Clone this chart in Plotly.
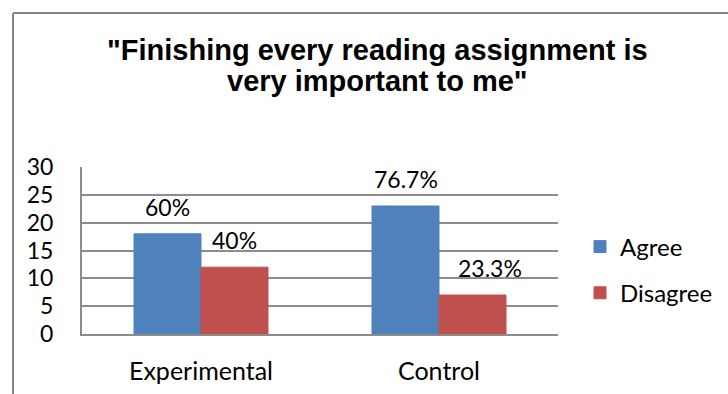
import plotly.graph_objects as go

# Survey responses (number of students) per group
groups = ["Experimental", "Control"]
agree = [18, 23]
disagree = [12, 7]
group_sizes = [30, 30]
y_ticks = [0, 5, 10, 15, 20, 25, 30]

title_lines = ['"Finishing every reading assignment is', 'very important to me"']

BLUE = "#4F81BD"
RED = "#C0504D"
GRID = "#8C8C8C"
FRAME = "#868686"
BODY_FONT = "Lato"

# page geometry (px)
W, H = 728, 394
M_L, M_R, M_T, M_B = 82, 10, 167, 60
PAPER_W = W - M_L - M_R
PAPER_H = H - M_T - M_B
PLOT_W = 476


def px_x(px):
    return (px - M_L) / PAPER_W


def px_y(py):
    return (H - M_B - py) / PAPER_H


x_pos = list(range(len(groups)))
bar_w = 0.2815

fig = go.Figure()
fig.add_trace(go.Bar(
    name="Agree", x=x_pos, y=agree, offset=-bar_w, width=bar_w,
    marker=dict(color=BLUE, line=dict(color=BLUE, width=1)),
    legendgroup="a",
))
fig.add_trace(go.Bar(
    name="Disagree", x=x_pos, y=disagree, offset=0, width=bar_w,
    marker=dict(color=RED, line=dict(color=RED, width=1)),
    legendgroup="d",
))

# Percentage labels above each bar, computed from counts
annotations = []
for series, centre_off, shifts in ((agree, -bar_w / 2, [0, 0]),
                                   (disagree, bar_w / 2, [0, 17])):
    for i, v in enumerate(series):
        pct = 100 * v / group_sizes[i]
        txt = f"{pct:.1f}".rstrip("0").rstrip(".") + "%"
        annotations.append(dict(
            x=x_pos[i] + centre_off, y=v, xref="x", yref="y",
            text=txt, showarrow=False, yanchor="bottom",
            yshift=11, xshift=shifts[i],
            font=dict(family=BODY_FONT, size=23, color="#000000"),
        ))

# Two-line bold chart title
for line, centre_y in zip(title_lines, (50, 81)):
    annotations.append(dict(
        x=px_x(377), y=px_y(centre_y), xref="paper", yref="paper",
        text=f"<b>{line}</b>", showarrow=False,
        xanchor="center", yanchor="middle",
        font=dict(family="Liberation Sans", size=29, color="#000000"),
    ))

# Outer chart frame (left and top edges; the rest runs off the page)
fl, ft = px_x(13), px_y(13)
fb, fr = px_y(400), px_x(735)
shapes = [
    dict(type="line", xref="paper", yref="paper",
         x0=fl, x1=fl, y0=fb, y1=ft,
         line=dict(color=FRAME, width=2), layer="above"),
    dict(type="line", xref="paper", yref="paper",
         x0=fl, x1=fr, y0=ft, y1=ft,
         line=dict(color=FRAME, width=2), layer="above"),
]

fig.update_layout(
    width=W, height=H,
    margin=dict(l=M_L, r=M_R, t=M_T, b=M_B, autoexpand=False),
    paper_bgcolor="white", plot_bgcolor="white",
    bargap=0.437,
    showlegend=True,
    legend=dict(
        x=px_x(580), y=px_y(270), xanchor="left", yanchor="middle",
        font=dict(family=BODY_FONT, size=24, color="#000000"),
        tracegroupgap=12, itemwidth=30,
    ),
    annotations=annotations,
    shapes=shapes,
)

fig.update_xaxes(
    domain=[0, PLOT_W / PAPER_W],
    tickvals=x_pos, ticktext=groups, range=[-0.5, len(groups) - 0.5],
    showgrid=False, zeroline=False, showline=True,
    linecolor=GRID, linewidth=2, ticks="",
    tickfont=dict(family=BODY_FONT, size=25, color="#000000"),
    ticklabelstandoff=14, automargin=False,
)
fig.update_yaxes(
    range=[0, 30], tickvals=y_ticks,
    showgrid=True, gridcolor=GRID, gridwidth=2,
    zeroline=False, showline=True, linecolor=GRID, linewidth=2,
    ticks="", mirror=False,
    tickfont=dict(family=BODY_FONT, size=23, color="#000000"),
    ticklabelstandoff=22, automargin=False,
)

fig.write_html("out.html")
